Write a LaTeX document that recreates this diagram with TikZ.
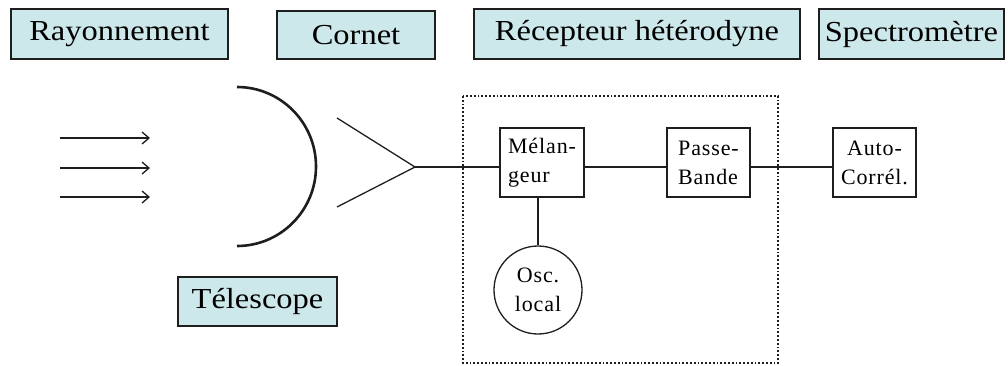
\documentclass[tikz,border=0pt]{standalone}
\usepackage{fontspec}
\setmainfont{Liberation Serif}
\newfontfamily\headfont[FakeStretch=1.12]{Liberation Serif}
\newfontfamily\blkfont[LetterSpace=4]{Liberation Serif}
\usetikzlibrary{arrows.meta}
\definecolor{hdrfill}{RGB}{205,232,234}
\definecolor{ink}{RGB}{30,30,30}
\tikzset{
  hdr/.style={draw=ink, line width=1.3pt, fill=hdrfill, inner sep=0pt, font=\headfont\fontsize{29}{32}\selectfont},
  blk/.style={draw=ink, line width=1.3pt, fill=white, inner sep=0pt, font=\blkfont\fontsize{22}{29}\selectfont, align=left},
  wire/.style={draw=ink, line width=1.3pt},
  ray/.style={draw=ink, line width=1.3pt, -{Straight Barb[length=7pt,width=12pt,line width=1.3pt]}},
}
\begin{document}
\begin{tikzpicture}[x=1pt,y=-1pt]
\useasboundingbox (0,0) rectangle (1008,365);
% header boxes
\node[hdr, minimum width=217pt, minimum height=50pt] (ray) at (119.5,34) {Rayonnement};
\node[hdr, minimum width=158pt, minimum height=48pt] (cor) at (356,35) {Cornet};
\node[hdr, minimum width=326pt, minimum height=50pt] (rec) at (637,34) {Récepteur hétérodyne};
\node[hdr, minimum width=185pt, minimum height=50pt] (spe) at (911.5,34) {Spectromètre};
\node[hdr, minimum width=159pt, minimum height=49pt] (tel) at (257.5,301.5) {Télescope};
% incoming rays
\coordinate (r1a) at (60,138); \coordinate (r1b) at (150,138);
\coordinate (r2a) at (60,168); \coordinate (r2b) at (150,168);
\coordinate (r3a) at (60,197); \coordinate (r3b) at (150,197);
\draw[ray] (r1a) -- (r1b);
\draw[ray] (r2a) -- (r2b);
\draw[ray] (r3a) -- (r3b);
% mirror
\coordinate (mtop) at (237,87);
\draw[ink, line width=2.6pt] (mtop) arc[start angle=90, end angle=-90, x radius=79pt, y radius=79.5pt];
% horn
\coordinate (hu) at (337,118);
\coordinate (hl) at (337,207);
\coordinate (ht) at (415,167);
\draw[wire] (hu) -- (ht) -- (hl);
% receiver frame
\coordinate (f1) at (463,96);
\coordinate (f2) at (778,363);
\draw[ink, line width=1.8pt, dotted] (f1) rectangle (f2);
% blocks
\node[blk, minimum width=84pt, minimum height=69pt] (mel) at (542,162.5) {M\'elan-\\geur};
\node[blk, minimum width=83pt, minimum height=69pt] (pb) at (708.5,162.5) {Passe-\\Bande};
\node[blk, minimum width=83pt, minimum height=69pt, align=center] (ac) at (874.5,162.5) {Auto-\\Corr\'el.};
\node[blk, circle, minimum size=88pt, align=center] (osc) at (538,290) {Osc.\\local};
% wires
\draw[wire] (ht) -- (mel.west |- ht);
\draw[wire] (mel.east |- ht) -- (pb.west |- ht);
\draw[wire] (pb.east |- ht) -- (ac.west |- ht);
\draw[wire] (osc.north |- mel.south) -- (osc.north);
\end{tikzpicture}
\end{document}
